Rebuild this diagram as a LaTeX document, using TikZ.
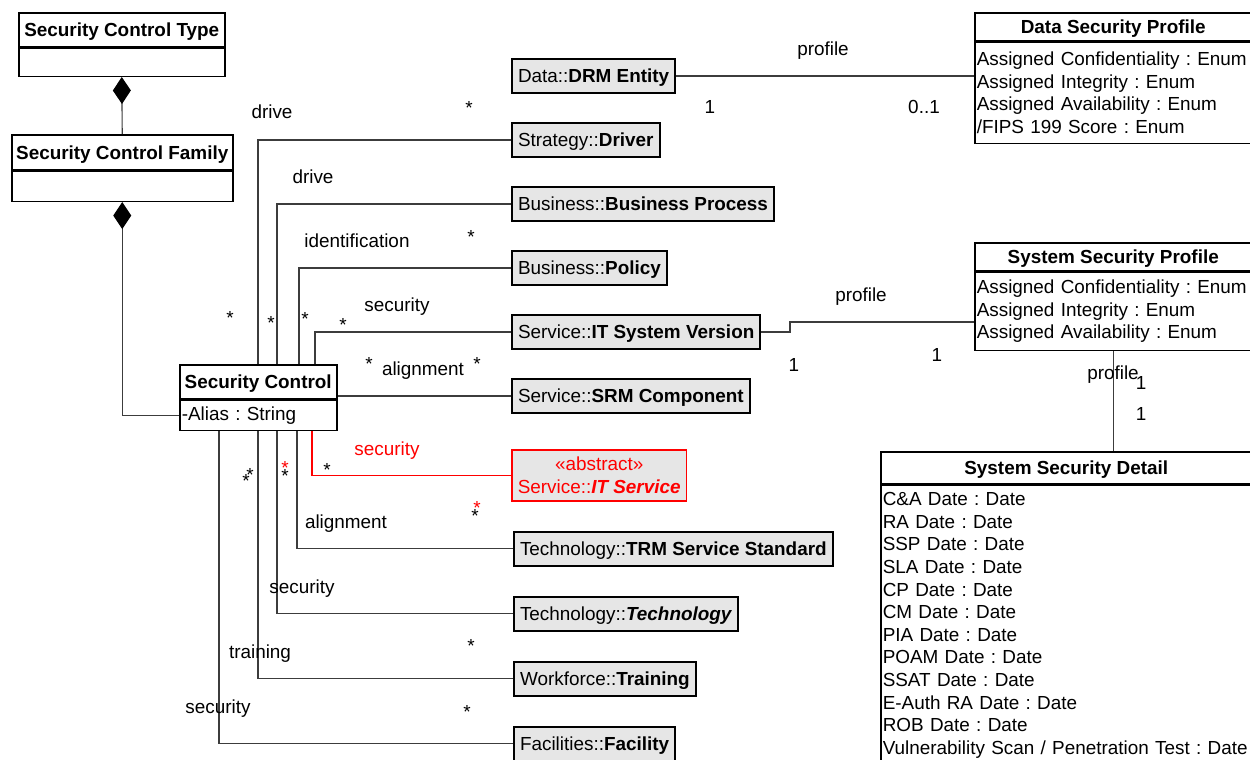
\documentclass[tikz,border=0pt]{standalone}
\usepackage{fontspec}
\setmainfont{Liberation Sans}
\usetikzlibrary{positioning,arrows.meta}
\definecolor{refgray}{RGB}{230,230,230}
\definecolor{linegray}{RGB}{60,60,60}
\tikzset{
	class/.style={draw, line width=0.75pt, inner sep=0pt, anchor=north west},
	classhead/.style={class, font=\bfseries, text height=6.8pt, text depth=0pt},
	classattr/.style={class, align=left, inner xsep=1pt},
	refclass/.style={draw, line width=1pt, fill=refgray, anchor=west, inner xsep=3pt, inner ysep=0pt,
		minimum height=17pt, text height=6.8pt, text depth=0pt},
	absclass/.style={draw=red, text=red, line width=0.8pt, fill=refgray, anchor=west, inner xsep=3pt,
		inner ysep=0pt, minimum height=25.5pt, align=center},
	assoc/.style={draw=linegray, line width=0.55pt},
	compose/.style={assoc, -{Diamond[length=13.5pt, width=9pt, color=black]}},
	lbl/.style={anchor=base, inner sep=0pt},
	mult/.style={anchor=base, inner sep=0pt},
}
\begin{document}
\fontsize{9.45pt}{11.3pt}\selectfont\frenchspacing
\begin{tikzpicture}[x=0.5pt, y=-0.5pt]
	\useasboundingbox (0,0) rectangle (1250,760);
	\clip (0,0) rectangle (1250,760);
	\node[classhead, minimum width=103pt, minimum height=17pt] (sct) at (18,12) {Security Control Type};
	\node[classattr, text width=101pt, minimum height=14pt] (sct-attr) at (sct.south west) {};
	\node[classhead, minimum width=110.5pt, minimum height=17.5pt] (scf) at (11,134) {Security Control Family};
	\node[classattr, text width=108.5pt, minimum height=15pt] (scf-attr) at (scf.south west) {};
	\node[classhead, minimum width=78.5pt, minimum height=17pt] (sc) at (179,364) {Security Control};
	\node[classattr, text width=76.5pt, minimum height=15pt] (sc-attr) at (sc.south west) {-Alias : String};
	\node[classhead, minimum width=138.5pt, minimum height=14pt] (dsp) at (974,12) {Data Security Profile};
	\node[classattr, text width=136.5pt, minimum height=50.5pt] (dsp-attr) at (dsp.south west)
		{Assigned Confidentiality : Enum\\Assigned Integrity : Enum\\Assigned Availability : Enum\\/FIPS 199 Score : Enum};
	\node[classhead, minimum width=138.5pt, minimum height=14pt] (ssp) at (974,242) {System Security Profile};
	\node[classattr, text width=136.5pt, minimum height=39pt] (ssp-attr) at (ssp.south west)
		{Assigned Confidentiality : Enum\\Assigned Integrity : Enum\\Assigned Availability : Enum};
	\node[classhead, minimum width=185.5pt, minimum height=16pt] (ssd) at (880,451) {System Security Detail};
	\node[classattr, text width=183.5pt, inner ysep=3.6pt] (ssd-attr) at (ssd.south west)
		{C\&A Date : Date\\RA Date : Date\\SSP Date : Date\\SLA Date : Date\\CP Date : Date\\CM Date : Date\\
		PIA Date : Date\\POAM Date : Date\\SSAT Date : Date\\E-Auth RA Date : Date\\ROB Date : Date\\
		Vulnerability Scan / Penetration Test : Date};

	\node[refclass] (drm) at (511,76) {Data::\textbf{DRM Entity}};
	\node[refclass, below=32pt of drm.west, anchor=west] (driver) {Strategy::\textbf{Driver}};
	\node[refclass, below=32pt of driver.west, anchor=west] (bp) {Business::\textbf{Business Process}};
	\node[refclass, below=32pt of bp.west, anchor=west] (policy) {Business::\textbf{Policy}};
	\node[refclass, below=32pt of policy.west, anchor=west] (itsv) {Service::\textbf{IT System Version}};
	\node[refclass, below=32pt of itsv.west, anchor=west] (srm) {Service::\textbf{SRM Component}};
	\node[absclass] (itsvc) at (511,475.5) {«abstract»\\Service::\textbf{\textit{IT Service}}};
	\node[refclass] (trm) at (513,548.5) {Technology::\textbf{TRM Service Standard}};
	\node[refclass, below=32.5pt of trm.west, anchor=west] (tech) {Technology::\textbf{\textit{Technology}}};
	\node[refclass, below=32.5pt of tech.west, anchor=west] (training) {Workforce::\textbf{Training}};
	\node[refclass, below=32.5pt of training.west, anchor=west] (facility) {Facilities::\textbf{Facility}};

	\draw[compose] (scf.north) -- (sct-attr.south);
	\draw[compose] (sc-attr.west) -| (scf-attr.south);
	\draw[assoc] (sc.north -| 258,0) |- (driver.west);
	\draw[assoc] (sc.north -| 277,0) |- (bp.west);
	\draw[assoc] (sc.north -| 299,0) |- (policy.west);
	\draw[assoc] (sc.north -| 315,0) |- (itsv.west);
	\draw[assoc] (srm.west -| sc.east) -- (srm.west);
	\draw[assoc, draw=red] (sc-attr.south -| 312,0) |- (itsvc.west);
	\draw[assoc] (sc-attr.south -| 297,0) |- (trm.west);
	\draw[assoc] (sc-attr.south -| 277,0) |- (tech.west);
	\draw[assoc] (sc-attr.south -| 258,0) |- (training.west);
	\draw[assoc] (sc-attr.south -| 219,0) |- (facility.west);
	\draw[assoc] (drm.east) -- (drm.east -| dsp-attr.west);
	\coordinate (bend) at (790,322);
	\draw[assoc] (itsv.east) -| (bend) -- (bend -| ssp-attr.west);
	\draw[assoc] (ssp-attr.south) -- (ssd.north -| ssp-attr.south);

	\node[lbl] (l-drive1) at (272,119) {drive};
	\node[lbl] (l-drive2) at (313,183) {drive};
	\node[lbl] (l-ident) at (357,247) {identification};
	\node[lbl] (l-sec1) at (397,311) {security};
	\node[lbl] (l-align1) at (423,375) {alignment};
	\node[lbl, text=red] (l-sec2) at (387,455) {security};
	\node[lbl] (l-align2) at (346,528) {alignment};
	\node[lbl] (l-sec3) at (302,593) {security};
	\node[lbl] (l-train) at (260,658) {training};
	\node[lbl] (l-sec4) at (218,713) {security};
	\node[lbl] (l-prof1) at (823,55) {profile};
	\node[lbl] (l-prof2) at (861,301) {profile};
	\node[lbl] (l-prof3) at (1113,379) {profile};

	\node[mult] (m-drm) at (710,113) {1};
	\node[mult] (m-dsp) at (924,113) {0..1};
	\node[mult] (m-itsv) at (794,371) {1};
	\node[mult] (m-ssp1) at (937,361) {1};
	\node[mult] (m-ssp2) at (1141,389) {1};
	\node[mult] (m-ssd) at (1141,420) {1};

	\node[mult] (s-driver) at (469,114) {*};
	\node[mult] (s-bp) at (471,243) {*};
	\node[mult] (s-sc1) at (230,324) {*};
	\node[mult] (s-sc2) at (271,329) {*};
	\node[mult] (s-sc3) at (305,325) {*};
	\node[mult] (s-sc4) at (343,331) {*};
	\node[mult] (s-sc5) at (369,370) {*};
	\node[mult] (s-srm) at (477,370) {*};
	\node[mult] (s-sc6) at (246,487) {*};
	\node[mult] (s-sc7) at (250,481) {*};
	\node[mult, text=red] (s-sc8) at (285,474) {*};
	\node[mult] (s-sc9) at (285,482) {*};
	\node[mult] (s-sc10) at (327,476) {*};
	\node[mult, text=red] (s-itsvc1) at (477,514) {*};
	\node[mult] (s-itsvc2) at (475,522) {*};
	\node[mult] (s-tech) at (471,652) {*};
	\node[mult] (s-fac) at (467,718) {*};
\end{tikzpicture}
\end{document}
